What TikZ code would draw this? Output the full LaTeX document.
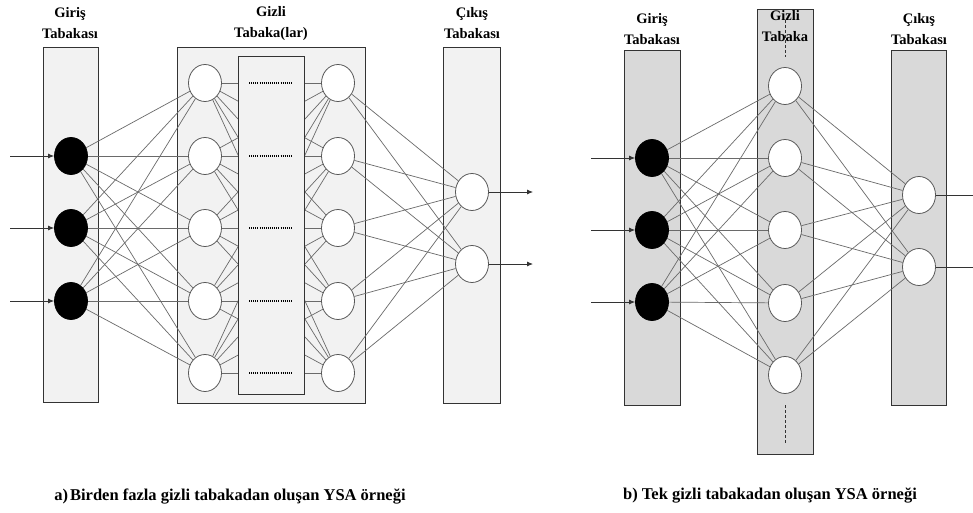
\documentclass[tikz,border=0pt]{standalone}
\usepackage{fontspec}
\setmainfont{Liberation Serif}
\usetikzlibrary{shapes.geometric,arrows.meta}
\definecolor{lightfill}{HTML}{F2F2F2}
\definecolor{darkfill}{HTML}{D9D9D9}
\definecolor{linkgray}{HTML}{6A6A6A}
\begin{document}
\begin{tikzpicture}[x=1pt,y=-1pt,
  layerbox/.style={draw=black!80, line width=0.8pt, inner sep=0pt, anchor=north west},
  neuron/.style={ellipse, draw=black!65, line width=0.8pt, fill=white, minimum width=33pt, minimum height=37pt, inner sep=0pt},
  inneuron/.style={neuron, fill=black, draw=black},
  link/.style={draw=linkgray, line width=0.7pt},
  inarrow/.style={draw=black!80, line width=0.8pt, -{Latex[length=6pt,width=5pt]}},
  layerlabel/.style={font=\bfseries\fontsize{14.5}{21}\selectfont, align=center},
  caption/.style={font=\bfseries\fontsize{16.5}{20}\selectfont},
  dotrow/.style={draw=black, line width=1.3pt, dash pattern=on 1pt off 1.1pt},
  dashcol/.style={draw=black!80, line width=0.7pt, dash pattern=on 3pt off 2pt}
]
\clip (0,0) rectangle (973,513);
\fill[white] (0,0) rectangle (973,513);

% ---------------- (a) ----------------
\node[layerbox, fill=lightfill, minimum width=55pt, minimum height=355pt] (ainbox) at (43,47) {};
\node[layerbox, fill=lightfill, minimum width=188pt, minimum height=356pt] (ahidbox) at (177,47) {};
\node[layerbox, fill=lightfill, minimum width=57pt, minimum height=356pt] (aoutbox) at (443,47) {};

\node[layerlabel] (alabin) at (70,23.5) {Giriş\\Tabakası};
\node[layerlabel] (alabhid) at (271,23.5) {Gizli\\Tabaka(lar)};
\node[layerlabel] (alabout) at (472,23.5) {Çıkış\\Tabakası};

\foreach \i/\y in {1/156,2/228,3/301}
  \node[inneuron] (ai\i) at (71,\y) {};
\foreach \i/\y in {1/83,2/156,3/228,4/301,5/373}{
  \node[neuron] (ah\i) at (205,\y) {};
  \node[neuron] (ar\i) at (338,\y) {};
}
\foreach \i/\y in {1/192,2/264}
  \node[neuron] (ao\i) at (472,\y) {};

\foreach \i in {1,2,3}
  \foreach \j in {1,...,5}
    \draw[link] (ai\i) -- (ah\j);
\foreach \i in {1,...,5}
  \foreach \j in {1,...,5}
    \draw[link] (ah\i) -- (ar\j);
\foreach \i in {1,...,5}
  \foreach \j in {1,2}
    \draw[link] (ar\i) -- (ao\j);

\node[layerbox, fill=lightfill, minimum width=66pt, minimum height=338pt] (ainner) at (238,56) {};
\foreach \i/\y in {1/83,2/156,3/228,4/301,5/373}{
  \coordinate (adl\i) at (249,\y);
  \coordinate (adr\i) at (292,\y);
  \draw[dotrow] (adl\i) -- (adr\i);
}

\foreach \i/\y in {1/156,2/228,3/301}{
  \coordinate (aisrc\i) at (10,\y);
  \draw[inarrow] (aisrc\i) -- (ai\i);
}
\foreach \i/\y in {1/192,2/264}{
  \coordinate (aodst\i) at (533,\y);
  \draw[inarrow] (ao\i) -- (aodst\i);
}

\node[caption] (capa) at (230,497) {a)\hspace{2pt}Birden fazla gizli tabakadan oluşan YSA örneği};

% ---------------- (b) ----------------
\node[layerbox, fill=darkfill, minimum width=56pt, minimum height=355pt] (binbox) at (624,50) {};
\node[layerbox, fill=darkfill, minimum width=56pt, minimum height=445pt] (bhidbox) at (757,9) {};
\node[layerbox, fill=darkfill, minimum width=55pt, minimum height=355pt] (boutbox) at (891,50) {};

\node[layerlabel] (blabin) at (652,29.5) {Giriş\\Tabakası};
\node[layerlabel] (blabhid) at (785,26.5) {Gizli\\Tabaka};
\node[layerlabel] (blabout) at (919,29.5) {Çıkış\\Tabakası};

\coordinate (bdt1) at (785,20);
\coordinate (bdt2) at (785,57);
\draw[dashcol] (bdt1) -- (bdt2);
\coordinate (bdb1) at (785,405);
\coordinate (bdb2) at (785,443);
\draw[dashcol] (bdb1) -- (bdb2);

\foreach \i/\y in {1/158,2/230,3/302}
  \node[inneuron] (bi\i) at (652,\y) {};
\foreach \i/\y in {1/86,2/158,3/230,4/303,5/375}
  \node[neuron] (bh\i) at (785,\y) {};
\foreach \i/\y in {1/195,2/267}
  \node[neuron] (bo\i) at (919,\y) {};

\foreach \i in {1,2,3}
  \foreach \j in {1,...,5}
    \draw[link] (bi\i) -- (bh\j);
\foreach \i in {1,...,5}
  \foreach \j in {1,2}
    \draw[link] (bh\i) -- (bo\j);

\foreach \i/\y in {1/158,2/230,3/302}{
  \coordinate (bisrc\i) at (591,\y);
  \draw[inarrow] (bisrc\i) -- (bi\i);
}
\foreach \i/\y in {1/195,2/267}{
  \coordinate (bodst\i) at (985,\y);
  \draw[inarrow] (bo\i) -- (bodst\i);
}

\node[caption] (capb) at (770,496) {b) Tek gizli tabakadan oluşan YSA örneği};
\end{tikzpicture}
\end{document}
